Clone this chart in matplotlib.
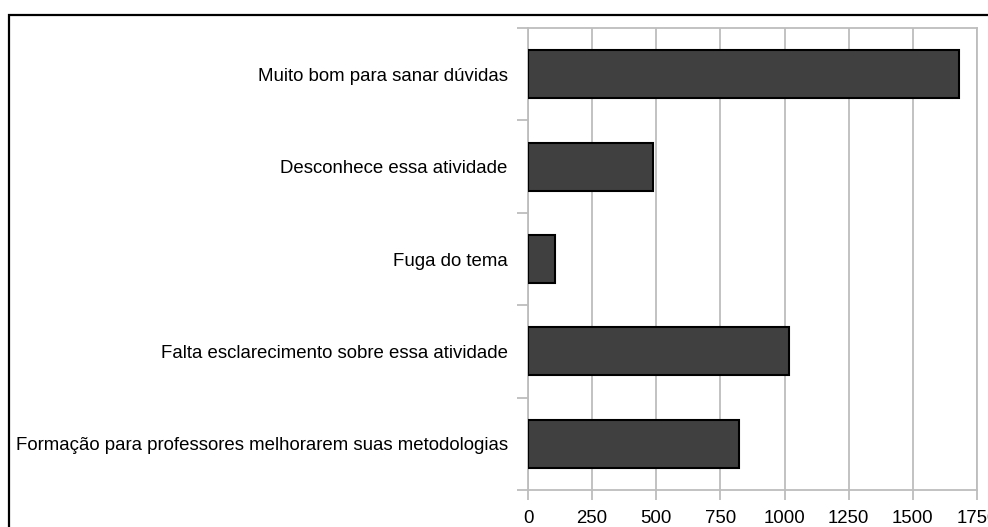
import matplotlib
matplotlib.use("Agg")
import matplotlib.pyplot as plt
from matplotlib.patches import Rectangle
from matplotlib.ticker import FixedLocator

plt.rcParams['font.family'] = ['Liberation Sans', 'DejaVu Sans']

categories = [
    "Muito bom para sanar dúvidas",
    "Desconhece essa atividade",
    "Fuga do tema",
    "Falta esclarecimento sobre essa atividade",
    "Formação para professores melhorarem suas metodologias",
]
values = [1681, 486, 105, 1016, 822]
xticks = [0, 250, 500, 750, 1000, 1250, 1500, 1750]

W, H = 988, 527
fig = plt.figure(figsize=(W / 100, H / 100), dpi=100)
ax = fig.add_axes([528 / W, 1 - 490 / H, (977 - 528) / W, (490 - 28) / H])

grid_c = '#bdbdbd'
pos = list(range(len(categories)))
ax.barh(pos, values, height=0.52, color='#404040', edgecolor='black', linewidth=1.5, zorder=3)

ax.set_xlim(0, 1750)
ax.set_ylim(len(categories) - 0.5, -0.5)
ax.set_xticks(xticks)
ax.set_xticklabels([str(t) for t in xticks])
ax.set_yticks(pos)
ax.set_yticklabels(categories)
ax.yaxis.set_minor_locator(FixedLocator([p - 0.5 for p in pos] + [len(pos) - 0.5]))

ax.xaxis.grid(True, color=grid_c, linewidth=1.3, zorder=0)
ax.set_axisbelow(True)
for s in ax.spines.values():
    s.set_color(grid_c)
    s.set_linewidth(1.3)

fs = 13.4
ax.tick_params(axis='y', which='major', length=0, pad=14.5, labelsize=fs, colors='black')
ax.tick_params(axis='y', which='minor', length=8, width=1.3, color=grid_c)
ax.tick_params(axis='x', which='major', length=7.2, width=1.3, color=grid_c, pad=7, labelsize=fs, labelcolor='black')

# figure frame (extends past right and bottom edges)
frame = Rectangle((9 / W, -0.2), 1.5, 1 - 15 / H + 0.2, transform=fig.transFigure,
                  fill=False, edgecolor='black', linewidth=1.6, clip_on=False)
fig.patches.append(frame)

fig.savefig("out.png", dpi=100)
